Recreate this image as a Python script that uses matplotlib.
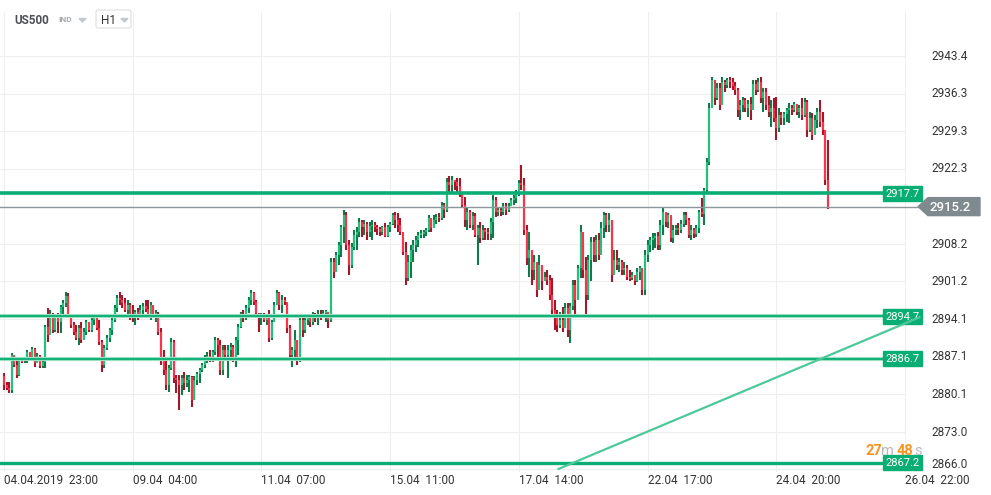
import matplotlib
matplotlib.use('Agg')
import matplotlib.pyplot as plt
from matplotlib.patches import Polygon, Rectangle, FancyBboxPatch
from matplotlib.transforms import IdentityTransform

plt.rcParams['font.family'] = ['Roboto', 'DejaVu Sans']

# hourly US500 candles, 04.04 23:00 -> 26.04
first_open = 2883.5
highs = [
    2884.0, 2882.4, 2882.4, 2887.8, 2886.9, 2886.5, 2887.1, 2887.1, 2887.1, 2888.4,
    2887.8, 2889.0, 2888.8, 2887.8, 2887.5, 2886.5, 2893.0, 2896.2, 2895.9, 2895.3,
    2894.9, 2895.3, 2896.8, 2897.7, 2899.3, 2899.1, 2894.7, 2893.6, 2893.0, 2893.0,
    2893.6, 2892.5, 2894.0, 2893.6, 2894.3, 2894.9, 2894.7, 2894.0, 2890.2, 2889.3,
    2891.1, 2892.5, 2894.3, 2896.8, 2898.7, 2899.3, 2898.7, 2898.1, 2897.7, 2897.2,
    2896.8, 2895.9, 2896.2, 2896.8, 2897.2, 2897.7, 2897.7, 2897.4, 2896.8, 2895.9,
    2895.5, 2892.5, 2888.4, 2886.5, 2885.6, 2890.6, 2890.2, 2883.7, 2883.7, 2883.7,
    2884.2, 2883.7, 2883.7, 2883.5, 2883.5, 2884.2, 2885.0, 2885.9, 2887.5, 2888.0,
    2888.4, 2888.4, 2890.8, 2890.6, 2890.2, 2889.3, 2889.3, 2889.3, 2889.6, 2889.3,
    2890.8, 2893.3, 2895.5, 2895.9, 2896.8, 2898.3, 2899.6, 2899.3, 2897.7, 2895.3,
    2895.3, 2895.3, 2894.9, 2895.9, 2894.0, 2897.4, 2899.6, 2899.3, 2898.7, 2898.3,
    2897.4, 2893.0, 2889.0, 2892.1, 2890.2, 2894.5, 2894.9, 2894.3, 2894.9, 2894.9,
    2895.5, 2895.3, 2895.9, 2895.9, 2895.9, 2895.9, 2895.5, 2905.6, 2905.6, 2906.7,
    2908.6, 2911.8, 2914.5, 2914.1, 2909.0, 2908.4, 2910.9, 2911.3, 2913.1, 2912.7,
    2912.7, 2912.4, 2912.4, 2912.7, 2912.4, 2911.8, 2911.3, 2911.6, 2912.2, 2911.8,
    2912.4, 2914.0, 2914.1, 2914.0, 2913.1, 2909.3, 2908.6, 2906.1, 2908.0, 2909.0,
    2909.7, 2910.5, 2910.9, 2910.9, 2911.2, 2913.6, 2913.1, 2913.6, 2913.8, 2914.0,
    2916.0, 2915.9, 2920.6, 2921.0, 2921.0, 2920.2, 2920.6, 2920.6, 2917.7, 2917.0,
    2914.9, 2914.5, 2914.1, 2914.0, 2911.8, 2912.4, 2911.8, 2911.2, 2911.2, 2913.1,
    2917.4, 2917.0, 2914.9, 2914.9, 2915.9, 2915.9, 2915.9, 2916.8, 2917.4, 2918.3,
    2920.2, 2923.0, 2920.6, 2911.8, 2910.5, 2907.1, 2906.1, 2904.8, 2906.1, 2903.7,
    2902.9, 2903.3, 2902.4, 2901.8, 2897.7, 2895.9, 2895.5, 2896.4, 2897.2, 2897.2,
    2897.2, 2901.5, 2901.5, 2904.2, 2911.8, 2908.0, 2905.8, 2906.1, 2909.5, 2909.5,
    2909.9, 2910.3, 2912.4, 2914.1, 2914.0, 2914.0, 2912.7, 2907.1, 2907.1, 2905.6,
    2905.2, 2904.8, 2904.2, 2903.3, 2902.9, 2902.4, 2903.7, 2904.0, 2903.7, 2907.1,
    2909.0, 2909.5, 2910.3, 2910.3, 2910.5, 2912.7, 2914.9, 2914.0, 2914.0, 2912.2,
    2911.8, 2911.8, 2912.2, 2912.7, 2914.1, 2914.1, 2913.1, 2911.8, 2911.2, 2911.8,
    2914.5, 2916.8, 2918.7, 2924.3, 2934.6, 2939.4, 2938.9, 2938.3, 2938.3, 2939.4,
    2938.9, 2939.3, 2939.4, 2939.3, 2938.5, 2937.4, 2935.2, 2935.8, 2935.6, 2935.2,
    2935.8, 2938.9, 2938.9, 2939.3, 2939.4, 2937.4, 2937.4, 2936.0, 2935.2, 2935.6,
    2935.8, 2933.7, 2932.9, 2932.9, 2933.7, 2934.6, 2934.3, 2934.8, 2934.4, 2934.3,
    2935.6, 2935.6, 2935.2, 2932.9, 2932.7, 2932.4, 2933.7, 2935.2, 2932.9, 2929.5,
    2927.6,
]
lows = [
    2880.8, 2880.8, 2880.3, 2880.3, 2885.2, 2883.1, 2883.5, 2885.9, 2885.9, 2885.9,
    2886.5, 2886.5, 2885.2, 2886.1, 2885.0, 2885.0, 2885.0, 2889.8, 2891.5, 2891.5,
    2891.7, 2891.5, 2891.5, 2894.5, 2896.4, 2894.3, 2892.5, 2891.1, 2890.2, 2889.3,
    2889.6, 2890.2, 2891.1, 2891.7, 2891.7, 2893.0, 2892.1, 2889.3, 2884.2, 2885.0,
    2888.4, 2889.8, 2891.1, 2893.6, 2895.5, 2896.8, 2896.2, 2895.5, 2894.9, 2894.0,
    2893.6, 2893.0, 2894.0, 2894.3, 2894.9, 2895.5, 2894.3, 2894.0, 2894.3, 2893.6,
    2891.1, 2885.6, 2883.7, 2880.8, 2880.5, 2884.6, 2882.2, 2880.3, 2877.1, 2879.9,
    2880.8, 2881.4, 2880.5, 2877.6, 2879.0, 2881.8, 2882.2, 2884.2, 2885.0, 2885.9,
    2886.1, 2886.1, 2887.5, 2886.5, 2883.7, 2883.7, 2886.5, 2883.1, 2886.5, 2886.1,
    2885.2, 2887.5, 2892.5, 2893.6, 2894.0, 2895.3, 2896.8, 2896.8, 2894.3, 2891.7,
    2893.0, 2893.6, 2893.0, 2889.8, 2890.2, 2893.6, 2897.7, 2895.9, 2895.3, 2896.8,
    2891.5, 2886.5, 2885.2, 2887.1, 2885.6, 2886.1, 2890.8, 2891.5, 2893.0, 2892.6,
    2893.0, 2893.6, 2893.0, 2894.0, 2894.3, 2893.6, 2892.5, 2893.6, 2901.8, 2903.3,
    2904.2, 2905.8, 2908.4, 2907.1, 2902.4, 2903.7, 2907.1, 2907.1, 2909.5, 2909.5,
    2909.9, 2909.0, 2909.5, 2909.0, 2910.5, 2909.9, 2909.7, 2909.9, 2909.5, 2909.5,
    2910.5, 2911.8, 2911.2, 2910.5, 2909.9, 2906.1, 2900.6, 2901.2, 2901.8, 2904.8,
    2906.7, 2907.7, 2909.3, 2909.3, 2909.7, 2910.5, 2910.5, 2911.2, 2912.0, 2912.4,
    2912.7, 2913.1, 2914.1, 2917.9, 2917.6, 2918.3, 2917.9, 2917.0, 2914.9, 2911.4,
    2910.9, 2911.2, 2910.9, 2909.5, 2904.2, 2908.4, 2909.0, 2909.0, 2909.0, 2909.0,
    2909.3, 2913.2, 2913.4, 2913.4, 2913.6, 2913.6, 2914.1, 2915.3, 2915.5, 2915.9,
    2917.2, 2918.3, 2909.9, 2904.2, 2902.0, 2900.6, 2901.5, 2898.3, 2900.6, 2899.6,
    2901.2, 2900.6, 2897.7, 2894.9, 2892.1, 2891.7, 2892.5, 2891.7, 2893.0, 2890.8,
    2889.6, 2895.9, 2894.5, 2898.1, 2901.8, 2901.8, 2894.9, 2897.7, 2901.2, 2904.8,
    2904.8, 2905.2, 2908.0, 2909.3, 2910.5, 2910.5, 2901.0, 2902.4, 2903.3, 2902.9,
    2902.4, 2902.4, 2901.5, 2901.2, 2901.5, 2900.6, 2901.0, 2901.5, 2898.7, 2898.7,
    2904.8, 2906.7, 2907.1, 2907.5, 2907.1, 2907.1, 2909.9, 2911.4, 2911.2, 2908.6,
    2908.4, 2909.9, 2909.9, 2910.3, 2911.4, 2911.8, 2909.3, 2909.0, 2909.3, 2909.5,
    2910.3, 2913.2, 2911.8, 2917.9, 2923.0, 2934.3, 2934.3, 2935.2, 2933.3, 2935.2,
    2936.7, 2937.4, 2937.4, 2937.0, 2936.1, 2932.0, 2931.4, 2932.9, 2932.9, 2932.0,
    2931.4, 2933.3, 2936.1, 2936.7, 2934.6, 2932.9, 2933.3, 2932.0, 2930.1, 2931.0,
    2927.6, 2929.2, 2930.5, 2930.5, 2931.0, 2930.9, 2932.4, 2932.9, 2932.4, 2931.8,
    2931.4, 2932.0, 2928.2, 2929.2, 2927.6, 2928.6, 2929.9, 2930.1, 2928.6, 2919.3,
    2914.8,
]
closes = [
    2881.8, 2881.2, 2880.8, 2887.5, 2885.6, 2883.7, 2886.5, 2886.3, 2886.9, 2888.0,
    2887.1, 2888.6, 2885.9, 2887.3, 2885.4, 2886.1, 2892.6, 2891.1, 2894.9, 2892.1,
    2894.3, 2893.6, 2896.4, 2897.2, 2898.5, 2894.7, 2893.0, 2891.7, 2890.6, 2892.5,
    2890.2, 2891.7, 2893.6, 2892.1, 2894.0, 2894.3, 2892.5, 2889.8, 2885.6, 2888.8,
    2890.6, 2892.1, 2894.0, 2896.2, 2898.1, 2897.7, 2897.2, 2895.9, 2896.8, 2894.7,
    2894.3, 2895.5, 2894.9, 2895.9, 2896.6, 2896.0, 2895.1, 2896.8, 2894.9, 2895.1,
    2891.7, 2886.5, 2884.6, 2881.8, 2885.0, 2889.8, 2883.1, 2882.7, 2881.8, 2883.1,
    2882.2, 2882.7, 2883.3, 2879.0, 2882.7, 2883.9, 2884.6, 2885.6, 2886.9, 2887.3,
    2886.5, 2888.0, 2890.2, 2889.3, 2884.6, 2888.4, 2887.5, 2888.4, 2889.0, 2886.9,
    2890.2, 2892.6, 2894.9, 2894.3, 2896.2, 2897.7, 2899.1, 2897.4, 2895.3, 2894.3,
    2894.9, 2894.0, 2894.3, 2890.6, 2893.6, 2896.8, 2899.1, 2896.8, 2897.7, 2897.4,
    2892.5, 2887.5, 2888.4, 2890.2, 2886.5, 2894.0, 2892.1, 2894.0, 2894.3, 2893.6,
    2894.9, 2894.3, 2895.1, 2894.7, 2895.3, 2895.5, 2894.0, 2904.8, 2902.9, 2906.1,
    2908.0, 2911.3, 2913.6, 2908.0, 2904.2, 2907.7, 2909.9, 2910.5, 2912.4, 2911.3,
    2912.0, 2910.5, 2911.6, 2911.8, 2911.3, 2911.1, 2910.5, 2911.3, 2909.7, 2911.3,
    2912.0, 2913.6, 2912.7, 2911.8, 2910.5, 2906.7, 2901.8, 2904.8, 2907.1, 2908.0,
    2909.0, 2909.9, 2910.1, 2910.5, 2910.9, 2913.1, 2911.2, 2912.7, 2913.3, 2913.1,
    2915.5, 2914.5, 2919.8, 2919.2, 2920.2, 2919.8, 2919.1, 2917.6, 2915.5, 2912.7,
    2914.1, 2911.8, 2913.5, 2909.9, 2911.2, 2909.3, 2910.9, 2910.5, 2910.1, 2912.4,
    2916.4, 2914.1, 2914.5, 2914.1, 2915.3, 2914.5, 2915.3, 2916.4, 2916.8, 2917.7,
    2919.6, 2919.2, 2910.9, 2905.6, 2907.1, 2903.3, 2904.8, 2899.6, 2904.2, 2901.2,
    2902.0, 2901.5, 2898.7, 2895.9, 2894.3, 2893.0, 2894.0, 2892.5, 2896.2, 2892.1,
    2896.6, 2900.6, 2897.7, 2903.7, 2910.5, 2903.3, 2898.7, 2905.2, 2908.6, 2906.1,
    2909.0, 2906.1, 2911.2, 2913.6, 2911.8, 2912.7, 2902.4, 2905.2, 2904.2, 2904.8,
    2903.3, 2903.7, 2902.0, 2901.8, 2902.4, 2901.2, 2902.9, 2903.7, 2899.6, 2906.1,
    2908.0, 2909.0, 2909.3, 2909.7, 2908.0, 2911.8, 2914.1, 2912.4, 2913.6, 2909.3,
    2910.9, 2911.2, 2910.9, 2912.0, 2913.6, 2912.7, 2909.9, 2910.9, 2910.1, 2911.2,
    2914.1, 2913.8, 2918.3, 2923.6, 2933.7, 2938.9, 2935.6, 2937.4, 2934.3, 2938.5,
    2937.9, 2938.9, 2938.5, 2937.7, 2937.1, 2933.3, 2934.3, 2935.2, 2933.7, 2934.4,
    2933.3, 2938.1, 2937.1, 2938.5, 2935.6, 2936.7, 2934.3, 2932.9, 2933.7, 2931.8,
    2929.9, 2932.4, 2931.8, 2932.6, 2933.3, 2933.7, 2933.3, 2934.4, 2932.9, 2933.7,
    2932.4, 2934.8, 2929.5, 2931.8, 2928.6, 2931.4, 2932.9, 2931.0, 2929.5, 2920.2,
    2915.2,
]

date_ticks = [0, 50, 100, 150, 200, 250, 300, 350]
date_labels = ['04.04.2019  23:00', '09.04  04:00', '11.04  07:00', '15.04  11:00',
               '17.04  14:00', '22.04  17:00', '24.04  20:00', '26.04  22:00']
price_ticks = [2866.0, 2873.0, 2880.1, 2887.1, 2894.1, 2901.2, 2908.2, 2915.2,
               2922.3, 2929.3, 2936.3, 2943.4]

resistance = 2917.7
supports = [2894.7, 2886.7]
bottom_level = 2867.2
last_price = 2915.2
trend_idx = [215, 356]
trend_price = [2866.0, 2894.55]

W, H = 991, 495
fig = plt.figure(figsize=(W / 100, H / 100), dpi=100)
ax = fig.add_axes([0, 24 / H, 905 / W, 459 / H])
ax.set_xlim(-1.554, 350)
ax.set_ylim(2865.70, 2951.64)
for s in ax.spines.values():
    s.set_visible(False)

grid_c = '#eeeeee'
for t in date_ticks:
    ax.axvline(t, color=grid_c, lw=0.8, zorder=0, clip_on=False)
for p in price_ticks:
    ax.axhline(p, color=grid_c, lw=0.8, zorder=0)

ax.set_yticks([])
ax.set_xticks(date_ticks)
ax.set_xticklabels(date_labels, fontsize=8.5, color='#333333')
ax.tick_params(axis='x', length=0, pad=2)
for lbl in ax.get_xticklabels():
    lbl.set_horizontalalignment('left')

# candles
opens = [first_open] + closes[:-1]
idx = list(range(len(closes)))
wick_c, body_c, b_lo, b_hi = [], [], [], []
for o, c in zip(opens, closes):
    up = c >= o
    wick_c.append('#117a4a' if up else '#a3172b')
    body_c.append('#22c07c' if up else '#fb3249')
    lo, hi = min(o, c), max(o, c)
    if hi - lo < 0.2:
        lo, hi = lo - 0.1, hi + 0.1
    b_lo.append(lo)
    b_hi.append(hi)
ax.vlines(idx, lows, highs, colors=wick_c, lw=1.5, zorder=2)
ax.vlines(idx, b_lo, b_hi, colors=body_c, lw=1.5, zorder=3)

# levels
green = '#0aae74'
box_frac = 883 / 905
ax.axhline(resistance, xmax=box_frac, color=green, lw=2.6, zorder=4)
ax.axhline(bottom_level, xmax=box_frac, color=green, lw=2.4, zorder=4)
for s in supports:
    ax.axhline(s, xmax=box_frac, color='#9be0c0', lw=3.0, zorder=4)
    ax.axhline(s, xmax=box_frac, color='#12b07a', lw=1.4, zorder=4)
ax.axhline(last_price, xmax=918 / 905, color='#8c979c', lw=1.0, zorder=4, clip_on=False)

fig.canvas.draw()
ident = IdentityTransform()


def ydisp(p):
    return ax.transData.transform((0, p))[1]


# price axis labels (the one at the last price sits under the price tag)
for p in price_ticks:
    if p == last_price:
        continue
    yd = ydisp(p) if p != price_ticks[0] else H - 464
    ax.text(931, yd, f'{p:.1f}', transform=ident, ha='left', va='center',
            fontsize=8.5, color='#333333', clip_on=False, zorder=5)

# level tags
for lv in [resistance] + supports + [bottom_level]:
    yd = ydisp(lv)
    r = Rectangle((883, yd - 7.5), 39, 15, transform=ident, color=green, zorder=6)
    ax.add_patch(r)
    r.set_clip_on(False)
    ax.text(902.5, yd - 0.5, f'{lv:.1f}', transform=ident, ha='center', va='center',
            fontsize=8, color='white', clip_on=False, zorder=7)

# trend line
ax.plot(trend_idx, trend_price, color='#4cc998', lw=1.6, zorder=8, clip_on=False,
        solid_capstyle='butt')

# last price tag
yd = ydisp(last_price)
tag = Polygon([(918, yd), (928, yd + 9), (980, yd + 9), (980, yd - 9), (928, yd - 9)],
              closed=True, transform=ident, color='#7f8a8f', zorder=9)
ax.add_patch(tag)
tag.set_clip_on(False)
ax.text(950, yd - 0.5, f'{last_price:.1f}', transform=ident, ha='center', va='center',
        fontsize=9.5, color='white', fontweight='medium', clip_on=False, zorder=10)

# countdown
cy = H - 451
orange = '#f7931e'
for tx, s, col, fw in [(865, '27', orange, 'bold'), (881, 'm', '#b8b8b8', 'normal'),
                       (897, '48', orange, 'bold'), (914, 's', '#b8b8b8', 'normal')]:
    ax.text(tx, cy, s, transform=ident, fontsize=10.5, color=col, fontweight=fw,
            va='center', ha='left', clip_on=False, zorder=10)

# header
hy = H - 20
hb = FancyBboxPatch((96, H - 28), 35, 18, boxstyle='round,pad=0,rounding_size=2',
                    transform=ident, facecolor='white', edgecolor='#dedede', lw=0.8, zorder=10)
ax.add_patch(hb)
hb.set_clip_on(False)
fig.text(14, hy, 'US500', transform=ident, fontsize=8.5, fontweight='bold',
         color='#4a5056', va='center', ha='left')
fig.text(58, hy, 'IND', transform=ident, fontsize=6, fontweight='bold',
         color='#a4a9ae', va='center', ha='left')
fig.text(101, hy, 'H1', transform=ident, fontsize=8.5, color='#333333',
         va='center', ha='left')
for tx in (79, 121):
    tri = Polygon([(tx, H - 18.5), (tx + 7, H - 18.5), (tx + 3.5, H - 22)], closed=True,
                  transform=ident, color='#c4c8cc', zorder=11)
    ax.add_patch(tri)
    tri.set_clip_on(False)

fig.savefig('out.png', dpi=100, facecolor='white')
